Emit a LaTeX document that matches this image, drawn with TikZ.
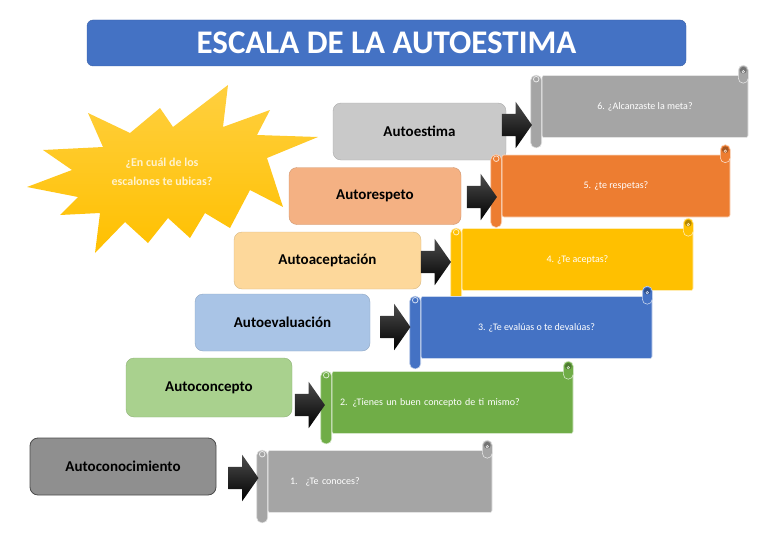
\documentclass[tikz,border=0pt]{standalone}
\usepackage{fontspec}
\setmainfont{Carlito}
\usepackage{tikz}
\usetikzlibrary{shapes,arrows,positioning}

\definecolor{azul}{HTML}{4472C4}
\definecolor{naranja}{HTML}{ED7D31}
\definecolor{oro}{HTML}{FFC000}
\definecolor{verde}{HTML}{70AD47}
\definecolor{gris}{HTML}{A5A5A5}
\definecolor{cEstima}{HTML}{C9C9C9}
\definecolor{cRespeto}{HTML}{F4B183}
\definecolor{cAceptacion}{HTML}{FDD89B}
\definecolor{cEvaluacion}{HTML}{A9C4E6}
\definecolor{cConcepto}{HTML}{A9D18E}
\definecolor{cConocimiento}{HTML}{8F8F8F}
\definecolor{cPregunta}{HTML}{FFF2CC}

\tikzset{
  titulo/.style={rectangle, rounded corners=6pt, fill=azul, draw=azul!85!black, minimum width=599pt, minimum height=46pt, text=white, font=\fontsize{33}{36}\selectfont\bfseries},
  escalon/.style={rectangle, rounded corners=8pt, fill=#1, draw=#1!85!black, minimum height=57pt, inner sep=0pt, font=\fontsize{15}{17}\selectfont\bfseries},
  flecha/.style={single arrow, single arrow head extend=12pt, single arrow tip angle=110, inner xsep=0pt, inner ysep=11pt, minimum height=30pt, top color=black!70, bottom color=black},
  pergamino/.style={rectangle, rounded corners=2pt, fill=#1, draw=white!70!#1, line width=0.6pt, minimum height=62pt, inner sep=0pt, text=white, font=\fontsize{10}{12}\selectfont},
  rollo/.style={fill=#1, draw=white!70!#1, line width=0.6pt, rounded corners=5pt},
}

\newcommand\pergamino[6][]{%
  \node[pergamino=#3, minimum width=#5pt, #1] (#2) at (#4) {#6};
  \draw[rollo=#3] ([xshift=-11pt]#2.north west) rectangle ([yshift=-10pt]#2.south west);
  \draw[white!75!#3, line width=0.8pt] ([xshift=-5.5pt,yshift=-4pt]#2.north west) circle (2.8pt);
  \draw[rollo=#3] ([xshift=-10pt,yshift=10pt]#2.north east) rectangle ([yshift=-8pt]#2.north east);
  \fill[#3!70!black] ([xshift=-5pt,yshift=5pt]#2.north east) circle (3.4pt);
  \draw[white!75!#3, line width=0.6pt] ([xshift=-5pt,yshift=3.5pt]#2.north east) circle (1.3pt);
}

\begin{document}
\begin{tikzpicture}[x=1pt, y=-1pt]
    \useasboundingbox (0,0) rectangle (768,543);
    \node[titulo] (titulo) at (386.5,43) {ESCALA DE LA AUTOESTIMA};

    \shade[top color=oro!75!white, bottom color=oro] (88,113) -- (130,133) -- (160,108) -- (173,127) -- (228,85) -- (223,127) -- (270,110) -- (257,135) -- (318,137) -- (267,158) -- (283,207) -- (250,190) -- (230,228) -- (205,213) -- (190,238) -- (168,218) -- (148,243) -- (125,222) -- (95,253) -- (100,213) -- (60,215) -- (78,197) -- (27,187) -- (72,170) -- (43,150) -- (103,147) -- cycle;
    \node[font=\fontsize{12}{19}\selectfont\bfseries, text=cPregunta, align=center] (pregunta) at (162,172) {¿En cuál de los\\escalones te ubicas?};

    \node[escalon=cEstima, minimum width=173pt] (estima) at (419.5,131.5) {Autoestima};
    \node[escalon=cRespeto, minimum width=172pt] (respeto) at (375,196) {Autorespeto};
    \node[escalon=cAceptacion, minimum width=187pt] (aceptacion) at (327.5,260.5) {Autoaceptación};
    \node[escalon=cEvaluacion, minimum width=175pt] (evaluacion) at (282.5,322.5) {Autoevaluación};
    \node[escalon=cConcepto, minimum width=166pt, minimum height=59pt] (concepto) at (209,387.5) {Autoconcepto};
    \node[escalon=cConocimiento, draw=black!70, line width=0.8pt, minimum width=186pt] (conocimiento) at (123,466.5) {Autoconocimiento};

    \pergamino{p6}{gris}{645,106.5}{206}{6. ¿Alcanzaste la meta?}
    \pergamino{p5}{naranja}{616,186}{228}{5. ¿te respetas?}
    \pergamino{p4}{oro}{577.5,259.5}{231}{4. ¿Te aceptas?}
    \pergamino{p3}{azul}{536.5,327.5}{231}{3. ¿Te evalúas o te devalúas?}
    \pergamino[text width=225pt, align=left]{p2}{verde}{452.5,402.5}{241}{2. ¿Tienes un buen concepto de ti mismo?}
    \pergamino[text width=180pt, align=left]{p1}{gris}{380,481.5}{224}{1.\hspace{8pt}¿Te conoces?}

    \node[flecha] (f6) at (513,125) {};
    \node[flecha] (f5) at (478,197) {};
    \node[flecha] (f4) at (432,262) {};
    \node[flecha] (f3) at (391.5,327) {};
    \node[flecha] (f2) at (306,405) {};
    \node[flecha] (f1) at (239.5,478) {};
\end{tikzpicture}
\end{document}
